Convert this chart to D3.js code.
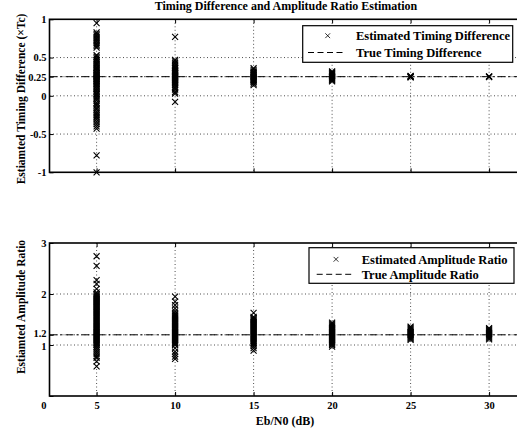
<!DOCTYPE html>
<html>
<head>
<meta charset="utf-8">
<script src="https://cdn.jsdelivr.net/npm/d3@7"></script>
<style>
  body { margin: 0; background: #fff; }
  svg text { font-family: "Liberation Serif", "Times New Roman", serif; font-weight: bold; fill: #000; }
</style>
</head>
<body>
<svg id="chart"></svg>
<script>
// Eb/N0 levels (dB)
var ebn0 = [5, 10, 15, 20, 25, 30];
var xTicks = [5, 10, 15, 20, 25, 30];

// estimated timing difference (x Tc), one list per Eb/N0
var timing05 = [0.95, 0.83, 0.81, 0.79, 0.77, 0.75, 0.73, 0.71, 0.69, 0.67, 0.65, 0.63, 0.53, 0.51, 0.49, 0.47, 0.46, 0.44, 0.42, 0.41, 0.39, 0.37, 0.36, 0.34, 0.33, 0.31, 0.30, 0.29, 0.28, 0.27, 0.26, 0.25, 0.24, 0.23, 0.22, 0.21, 0.20, 0.19, 0.18, 0.16, 0.15, 0.13, 0.12, 0.10, 0.09, 0.07, 0.05, 0.03, 0.02, 0.00, -0.02, -0.04, -0.06, -0.09, -0.11, -0.13, -0.16, -0.18, -0.21, -0.23, -0.25, -0.27, -0.29, -0.31, -0.34, -0.37, -0.40, -0.43, -0.78, -1.0];
var timing10 = [0.77, 0.47, 0.45, 0.43, 0.41, 0.39, 0.37, 0.36, 0.34, 0.33, 0.32, 0.31, 0.30, 0.29, 0.28, 0.27, 0.26, 0.25, 0.24, 0.23, 0.22, 0.21, 0.20, 0.19, 0.18, 0.17, 0.15, 0.14, 0.12, 0.10, 0.08, 0.05, 0.03, -0.08];
var timing15 = [0.36, 0.34, 0.32, 0.31, 0.30, 0.29, 0.28, 0.27, 0.26, 0.25, 0.24, 0.23, 0.22, 0.21, 0.20, 0.19, 0.18, 0.16, 0.14];
var timing20 = [0.32, 0.31, 0.30, 0.29, 0.28, 0.27, 0.26, 0.25, 0.24, 0.23, 0.22, 0.21, 0.20, 0.19];
var timing25 = [0.26, 0.255, 0.25, 0.245, 0.24];
var timing30 = [0.255, 0.25, 0.245];
var trueTiming = 0.25;
var timingTicks = [-1, -0.5, 0, 0.25, 0.5, 1];

// estimated amplitude ratio, one list per Eb/N0
var amp05 = [2.74, 2.55, 2.27, 2.20, 2.10, 2.03, 2.00, 1.98, 1.96, 1.94, 1.92, 1.90, 1.88, 1.86, 1.84, 1.82, 1.80, 1.78, 1.76, 1.74, 1.72, 1.70, 1.68, 1.66, 1.64, 1.62, 1.60, 1.58, 1.56, 1.54, 1.52, 1.50, 1.48, 1.46, 1.44, 1.42, 1.40, 1.38, 1.36, 1.34, 1.32, 1.30, 1.28, 1.26, 1.24, 1.22, 1.20, 1.18, 1.16, 1.14, 1.12, 1.10, 1.08, 1.06, 1.04, 1.02, 1.00, 0.97, 0.94, 0.90, 0.86, 0.82, 0.78, 0.75, 0.68, 0.58];
var amp10 = [1.95, 1.85, 1.78, 1.72, 1.66, 1.62, 1.60, 1.58, 1.56, 1.54, 1.52, 1.50, 1.48, 1.46, 1.44, 1.42, 1.40, 1.38, 1.36, 1.34, 1.32, 1.30, 1.28, 1.26, 1.24, 1.22, 1.20, 1.18, 1.16, 1.14, 1.12, 1.10, 1.08, 1.06, 1.04, 1.02, 1.00, 0.94, 0.87, 0.82, 0.77, 0.73];
var amp15 = [1.63, 1.55, 1.53, 1.51, 1.49, 1.47, 1.45, 1.43, 1.41, 1.39, 1.37, 1.35, 1.33, 1.31, 1.29, 1.27, 1.25, 1.23, 1.21, 1.19, 1.17, 1.15, 1.13, 1.11, 1.09, 1.07, 1.05, 1.03, 1.01, 0.98, 0.94, 0.89];
var amp20 = [1.44, 1.42, 1.40, 1.38, 1.36, 1.34, 1.32, 1.30, 1.28, 1.26, 1.24, 1.22, 1.20, 1.18, 1.16, 1.14, 1.12, 1.10, 1.08, 1.06, 1.04, 1.02, 1.00, 0.97];
var amp25 = [1.36, 1.34, 1.32, 1.30, 1.28, 1.26, 1.24, 1.22, 1.20, 1.18, 1.16, 1.14, 1.12, 1.10];
var amp30 = [1.33, 1.31, 1.29, 1.27, 1.25, 1.23, 1.21, 1.19, 1.17, 1.15, 1.13, 1.11];
var trueAmp = 1.2;
var ampTicks = [0, 1, 1.2, 2, 3];

var W = 517, H = 432;
var svg = d3.select("#chart").attr("width", W).attr("height", H);

var x = d3.scaleLinear().domain([2, 32]).range([49.5, 520.5]);
var yTop = d3.scaleLinear().domain([-1, 1]).range([172.3, 19.3]);
var yBot = d3.scaleLinear().domain([0, 3]).range([396, 243]);

function flatten(lists) {
    var pts = [];
    lists.forEach(function (vals, i) {
        vals.forEach(function (v) { pts.push({ x: ebn0[i], y: v }); });
    });
    return pts;
}

var crossPath = "M-3,-3L3,3M-3,3L3,-3";

function drawPanel(y, ticks, points, trueVal, showXLabels) {
    var g = svg.append("g");
    var y0 = y.range()[0], y1 = y.range()[1];

    // dotted grid
    g.selectAll(".gx").data(xTicks).enter().append("line")
        .attr("x1", d => x(d)).attr("x2", d => x(d))
        .attr("y1", y1).attr("y2", y0)
        .attr("stroke", "#222").attr("stroke-width", 0.8).attr("stroke-dasharray", "1,2.5");
    g.selectAll(".gy").data(ticks.filter(t => t > y.domain()[0] && t < y.domain()[1])).enter().append("line")
        .attr("x1", x.range()[0]).attr("x2", W)
        .attr("y1", d => y(d)).attr("y2", d => y(d))
        .attr("stroke", "#222").attr("stroke-width", 0.8).attr("stroke-dasharray", "1,2.5");

    // true value line
    g.append("line")
        .attr("x1", x.range()[0]).attr("x2", W)
        .attr("y1", y(trueVal)).attr("y2", y(trueVal))
        .attr("stroke", "#000").attr("stroke-width", 1).attr("stroke-dasharray", "8,3,2,3");

    // estimates
    g.selectAll(".pt").data(points).enter().append("path")
        .attr("d", crossPath)
        .attr("transform", d => "translate(" + x(d.x) + "," + y(d.y) + ")")
        .attr("fill", "none").attr("stroke", "#000").attr("stroke-width", 1.1);

    // axes
    var left = g.append("g").attr("transform", "translate(" + x.range()[0] + ",0)")
        .call(d3.axisLeft(y).tickValues(ticks).tickSizeInner(-4).tickSizeOuter(0).tickPadding(3)
            .tickFormat(d => showXLabels && d === 0 ? "" : String(d)));
    var bottom = g.append("g").attr("transform", "translate(0," + y0 + ")")
        .call(d3.axisBottom(x).tickValues(xTicks).tickSizeInner(-4).tickSizeOuter(0).tickPadding(6)
            .tickFormat(showXLabels ? d3.format("d") : ""));
    var top = g.append("g").attr("transform", "translate(0," + y1 + ")")
        .call(d3.axisTop(x).tickValues(xTicks).tickSizeInner(-4).tickSizeOuter(0).tickFormat(""));
    [left, bottom, top].forEach(function (a) {
        a.select(".domain").remove();
        a.selectAll("line").attr("stroke", "#000").attr("stroke-width", 1);
        a.selectAll("text").attr("font-size", 10.5).attr("font-family", null);
    });
    // the 1 and 1.2 labels sit very close; pull them apart a little
    left.selectAll(".tick text")
        .attr("y", d => (showXLabels && d === 1.2) ? -1.5 : (showXLabels && d === 1) ? 1.5 : 0);

    // box
    g.append("rect")
        .attr("x", x.range()[0]).attr("y", y1)
        .attr("width", x.range()[1] - x.range()[0]).attr("height", y0 - y1)
        .attr("fill", "none").attr("stroke", "#000").attr("stroke-width", 1.6);
    return g;
}

drawPanel(yTop, timingTicks, flatten([timing05, timing10, timing15, timing20, timing25, timing30]), trueTiming, false);
drawPanel(yBot, ampTicks, flatten([amp05, amp10, amp15, amp20, amp25, amp30]), trueAmp, true);

// stray zero label at the lower-left corner
svg.append("text").attr("x", 46.5).attr("y", 409).attr("text-anchor", "end")
    .attr("font-size", 10.5).text("0");

// title and axis labels
svg.append("text").attr("x", 286).attr("y", 10).attr("text-anchor", "middle")
    .attr("font-size", 12).text("Timing Difference and Amplitude Ratio Estimation");
svg.append("text").attr("x", 285).attr("y", 425).attr("text-anchor", "middle")
    .attr("font-size", 12).text("Eb/N0 (dB)");
svg.append("text").attr("transform", "translate(25,99) rotate(-90)").attr("text-anchor", "middle")
    .attr("font-size", 11.5).text("Estiamted Timing Difference (\u00d7Tc)");
svg.append("text").attr("transform", "translate(25,307) rotate(-90)").attr("text-anchor", "middle")
    .attr("font-size", 11.5).text("Estiamted Amplitude Ratio");

// legends
function legend(x0, y0, w, h, markX, lineX1, lineX2, textX, row1, row2, labels) {
    var g = svg.append("g");
    g.append("rect").attr("x", x0).attr("y", y0).attr("width", w).attr("height", h)
        .attr("fill", "#fff").attr("stroke", "#000").attr("stroke-width", 1.2);
    g.append("path").attr("d", crossPath).attr("transform", "translate(" + markX + "," + row1 + ") scale(0.8)")
        .attr("fill", "none").attr("stroke", "#000").attr("stroke-width", 1);
    g.append("line").attr("x1", lineX1).attr("x2", lineX2).attr("y1", row2).attr("y2", row2)
        .attr("stroke", "#000").attr("stroke-width", 1).attr("stroke-dasharray", "6,3.5");
    g.append("text").attr("x", textX).attr("y", row1).attr("dy", "0.35em").attr("font-size", 12.5).text(labels[0]);
    g.append("text").attr("x", textX).attr("y", row2).attr("dy", "0.35em").attr("font-size", 12.5).text(labels[1]);
}
legend(302.7, 25.7, 210, 36.6, 327.7, 308, 345, 356, 35.7, 52.5,
    ["Estimated Timing Difference", "True Timing Difference"]);
legend(309, 247.7, 205, 35.6, 336, 316.7, 352.7, 361.7, 259.3, 274.3,
    ["Estimated Amplitude Ratio", "True Amplitude Ratio"]);
</script>
</body>
</html>
